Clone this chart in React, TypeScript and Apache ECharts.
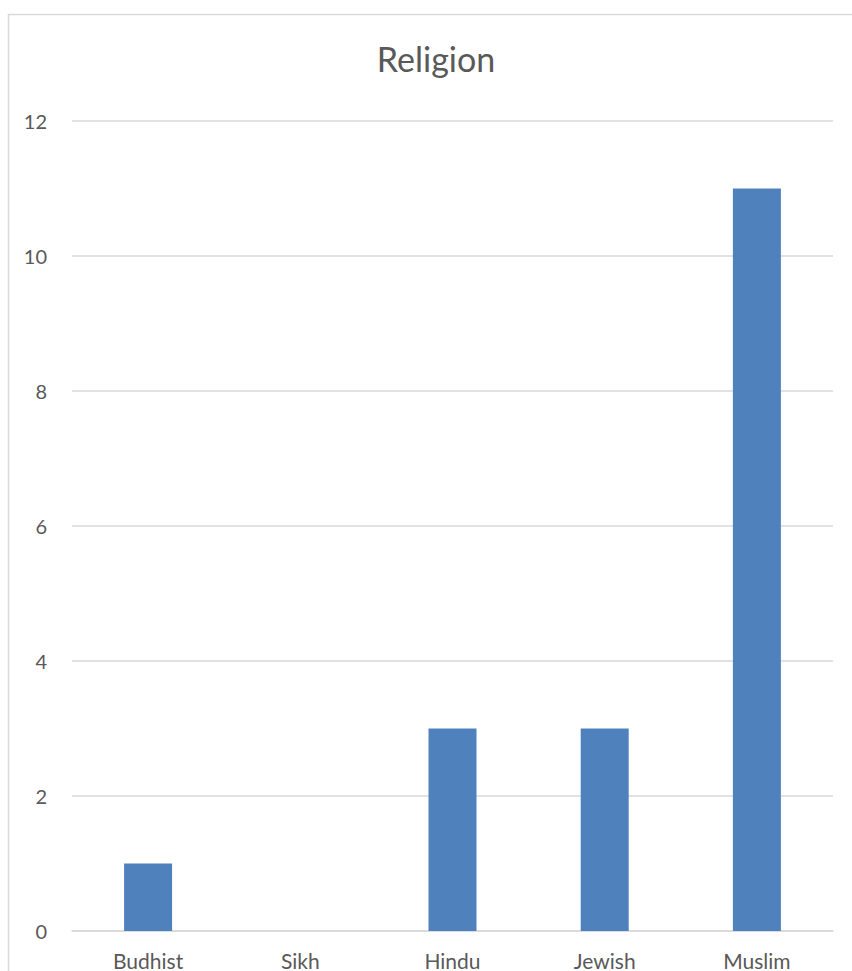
import React, { useEffect, useRef } from "react";
import * as echarts from "echarts";

const categories = ["Budhist", "Sikh", "Hindu", "Jewish", "Muslim"];
const counts = [1, 0, 3, 3, 11];
const chartTitle = "Religion";

export default function App() {
  const ref = useRef<HTMLDivElement>(null);

  useEffect(() => {
    if (!ref.current) return;
    const chart = echarts.init(ref.current, null, { renderer: "svg" });
    const font = "Lato, 'Open Sans', sans-serif";
    chart.setOption({
      animation: false,
      backgroundColor: "#ffffff",
      title: {
        text: chartTitle,
        left: 431,
        textAlign: "center",
        top: 36,
        textStyle: { color: "#595959", fontSize: 34, fontWeight: "normal", fontFamily: font },
      },
      graphic: [
        {
          type: "rect",
          shape: { x: 8.5, y: 14.5, width: 900, height: 1000 },
          style: { fill: "none", stroke: "#d9d9d9", lineWidth: 1.5 },
          silent: true,
        },
      ],
      grid: { left: 72, right: 19, top: 121, bottom: 39, containLabel: false },
      xAxis: {
        type: "category",
        data: categories,
        axisLine: { lineStyle: { color: "#d9d9d9", width: 1.5 } },
        axisTick: { show: false },
        axisLabel: { color: "#595959", fontSize: 21, fontFamily: font, margin: 19 },
      },
      yAxis: {
        type: "value",
        min: 0,
        max: 12,
        interval: 2,
        axisLine: { show: false },
        axisTick: { show: false },
        splitLine: { lineStyle: { color: "#d9d9d9", width: 1.5 } },
        axisLabel: { color: "#595959", fontSize: 20, fontFamily: font, margin: 25 },
      },
      series: [
        {
          type: "bar",
          data: counts,
          barWidth: 48,
          itemStyle: { color: "#4f81bd" },
        },
      ],
    });
    return () => chart.dispose();
  }, []);

  return (
    <div
      ref={ref}
      style={{ position: "absolute", left: 0, top: 0, width: 852, height: 971 }}
    />
  );
}
